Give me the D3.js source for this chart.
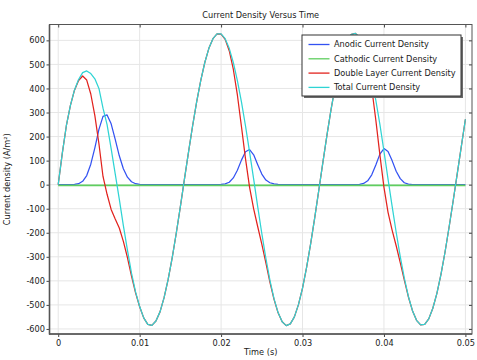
<!DOCTYPE html>
<html><head><meta charset="utf-8">
<script src="https://cdn.jsdelivr.net/npm/d3@7"></script>
<style>
html,body{margin:0;padding:0;background:#fff;}
svg{display:block;font-family:"DejaVu Sans",sans-serif;}
</style></head><body>
<svg id="chart" width="477" height="360"></svg>
<script>
const time = [0,0.0005,0.001,0.0015,0.002,0.0025,0.003,0.0035,0.004,0.0045,
0.005,0.0055,0.006,0.0065,0.007,0.0075,0.008,0.0085,0.009,0.0095,
0.01,0.0105,0.011,0.0115,0.012,0.0125,0.013,0.0135,0.014,0.0145,
0.015,0.0155,0.016,0.0165,0.017,0.0175,0.018,0.0185,0.019,0.0195,
0.02,0.0205,0.021,0.0215,0.022,0.0225,0.023,0.0235,0.024,0.0245,
0.025,0.0255,0.026,0.0265,0.027,0.0275,0.028,0.0285,0.029,0.0295,
0.03,0.0305,0.031,0.0315,0.032,0.0325,0.033,0.0335,0.034,0.0345,
0.035,0.0355,0.036,0.0365,0.037,0.0375,0.038,0.0385,0.039,0.0395,
0.04,0.0405,0.041,0.0415,0.042,0.0425,0.043,0.0435,0.044,0.0445,
0.045,0.0455,0.046,0.0465,0.047,0.0475,0.048,0.0485,0.049,0.0495,0.05];

const anodic = [0,0,0,0,1,4,14,38,85,153,
230,284,290,253,188,120,66,31,12,4,
1,0,0,0,0,0,0,0,0,0,
0,0,0,0,0,0,0,0,0,0,
1,3,10,28,60,102,137,146,124,83,
44,19,8,3,1,0,0,0,0,0,
0,0,0,0,0,0,0,0,0,0,
0,0,0,0,1,5,16,41,82,127,
150,138,100,56,25,8,2,0,0,0,
0,0,0,0,0,0,0,0,0,0,0];

const cathodic = [-3,-3,-3,-3,-3,-3,-3,-3,-3,-3,
-3,-3,-3,-3,-3,-3,-3,-3,-3,-3,
-3,-3,-3,-3,-3,-3,-3,-3,-3,-3,
-3,-3,-3,-3,-3,-3,-3,-3,-3,-3,
-3,-3,-3,-3,-3,-3,-3,-3,-3,-3,
-3,-3,-3,-3,-3,-3,-3,-3,-3,-3,
-3,-3,-3,-3,-3,-3,-3,-3,-3,-3,
-3,-3,-3,-3,-3,-3,-3,-3,-3,-3,
-3,-3,-3,-3,-3,-3,-3,-3,-3,-3,
-3,-3,-3,-3,-3,-3,-3,-3,-3,-3,-3];

const doubleLayer = [0,130,245,330,393,433,452,435,377,287,
170,34,-40,-103,-143,-180,-236,-303,-380,-450,
-508,-554,-581,-585,-567,-529,-470,-394,-303,-201,
-91,23,135,244,344,433,508,567,607,627,
626,604,557,480,373,242,107,-11,-101,-175,
-247,-325,-406,-477,-533,-570,-586,-579,-550,-499,
-430,-344,-245,-137,-23,93,206,312,407,488,
553,599,625,629,611,569,500,401,269,124,
-11,-115,-189,-254,-324,-397,-467,-524,-564,-583,
-581,-558,-514,-452,-373,-280,-176,-67,46,159,272];

const total = [0,130,245,330,394,437,466,473,462,440,
400,318,250,150,45,-60,-170,-272,-368,-446,
-507,-554,-581,-585,-567,-529,-470,-394,-303,-201,
-91,23,135,244,344,433,508,567,607,627,
627,607,567,508,433,344,244,135,23,-92,
-203,-306,-398,-474,-532,-570,-586,-579,-550,-499,
-430,-344,-245,-137,-23,93,206,312,407,488,
553,599,625,629,612,574,516,442,351,251,
139,23,-89,-198,-299,-389,-465,-524,-564,-583,
-581,-558,-514,-452,-373,-280,-176,-67,46,159,272];

const xTicks = [0,0.01,0.02,0.03,0.04,0.05];
const xTickLabels = ["0","0.01","0.02","0.03","0.04","0.05"];
const yTicks = [-600,-500,-400,-300,-200,-100,0,100,200,300,400,500,600];
const yTickLabels = ["-600","-500","-400","-300","-200","-100","0","100","200","300","400","500","600"];
const seriesNames = ["Anodic Current Density","Cathodic Current Density","Double Layer Current Density","Total Current Density"];
const titleText = "Current Density Versus Time";
const xLabel = "Time (s)";
const yLabel = "Current density (A/m\u00B2)";

const seriesData = [anodic, cathodic, doubleLayer, total];
const colors = ["#3352f2","#5fce5f","#e2231e","#2fd4d4"];
const widths = [1.25, 1.6, 1.25, 1.25];

const svg = d3.select("#chart");
const L = 49.5, R = 472, T = 24.5, B = 334;
const x = d3.scaleLinear().domain([-0.00107, 0.05081]).range([L, R]);
const y = d3.scaleLinear().domain([-621, 666]).range([B, T]);
const fs = "8.2px";
const txt = "#1a1a1a";

// grid
const grid = svg.append("g");
grid.selectAll("line.vx").data(xTicks).join("line")
  .attr("x1", d => x(d)).attr("x2", d => x(d)).attr("y1", T).attr("y2", B)
  .attr("stroke", "#e6e6e6").attr("stroke-width", 1);
grid.selectAll("line.hy").data(yTicks).join("line")
  .attr("y1", d => y(d)).attr("y2", d => y(d)).attr("x1", L).attr("x2", R)
  .attr("stroke", "#e6e6e6").attr("stroke-width", 1);

// clip
svg.append("clipPath").attr("id", "clip").append("rect")
  .attr("x", L).attr("y", T).attr("width", R - L).attr("height", B - T);

const line = d3.line().x((d, i) => x(time[i])).y(d => y(d));
const lines = svg.append("g").attr("clip-path", "url(#clip)");
seriesData.forEach((s, k) => {
  lines.append("path").datum(s).attr("d", line)
    .attr("fill", "none").attr("stroke", colors[k]).attr("stroke-width", widths[k])
    .attr("stroke-linejoin", "round");
});

// axes
function styleAxis(g, showText) {
  g.select(".domain").remove();
  g.selectAll(".tick line").attr("stroke", "#444").attr("stroke-width", 1);
  g.selectAll(".tick text").attr("font-size", fs).attr("fill", txt)
    .attr("font-family", "DejaVu Sans, sans-serif");
  if (!showText) g.selectAll(".tick text").remove();
}
svg.append("g").attr("transform", `translate(${L},0)`)
  .call(d3.axisLeft(y).tickValues(yTicks).tickFormat((d, i) => yTickLabels[i]).tickSize(3).tickPadding(1.5))
  .call(g => styleAxis(g, true));
svg.append("g").attr("transform", `translate(0,${B})`)
  .call(d3.axisBottom(x).tickValues(xTicks).tickFormat((d, i) => xTickLabels[i]).tickSize(3).tickPadding(3))
  .call(g => styleAxis(g, true));
svg.append("g").attr("transform", `translate(${R},0)`)
  .call(d3.axisLeft(y).tickValues(yTicks).tickFormat("").tickSize(3))
  .call(g => styleAxis(g, false));
svg.append("g").attr("transform", `translate(0,${T})`)
  .call(d3.axisBottom(x).tickValues(xTicks).tickFormat("").tickSize(3))
  .call(g => styleAxis(g, false));

// frame
svg.append("rect").attr("x", L).attr("y", T).attr("width", R - L).attr("height", B - T)
  .attr("fill", "none").attr("stroke", "#555").attr("stroke-width", 1);
svg.append("line").attr("x1", L).attr("x2", L).attr("y1", T).attr("y2", B + 0.5)
  .attr("stroke", "#555").attr("stroke-width", 1.6);
svg.append("line").attr("x1", L - 0.5).attr("x2", R).attr("y1", B).attr("y2", B)
  .attr("stroke", "#555").attr("stroke-width", 1.6);

// title & labels
svg.append("text").attr("x", (L + R) / 2).attr("y", 18.3).attr("text-anchor", "middle")
  .attr("font-size", fs).attr("fill", txt).text(titleText);
svg.append("text").attr("x", (L + R) / 2).attr("y", 354.5).attr("text-anchor", "middle")
  .attr("font-size", fs).attr("fill", txt).text(xLabel);
svg.append("text").attr("transform", `translate(10,${(T + B) / 2}) rotate(-90)`)
  .attr("text-anchor", "middle").attr("font-size", fs).attr("fill", txt).text(yLabel);

// legend
const lg = svg.append("g");
const lx = 302, ly = 35, lw = 159, lh = 61;
lg.append("rect").attr("x", lx + 2).attr("y", ly + 2).attr("width", lw).attr("height", lh).attr("fill", "#6a6a6a");
lg.append("rect").attr("x", lx).attr("y", ly).attr("width", lw).attr("height", lh)
  .attr("fill", "#fff").attr("stroke", "#333").attr("stroke-width", 1);
seriesNames.forEach((n, k) => {
  const yy = 44.5 + k * 14.3;
  lg.append("line").attr("x1", lx + 6.5).attr("x2", lx + 27.5).attr("y1", yy).attr("y2", yy)
    .attr("stroke", colors[k]).attr("stroke-width", 1.3);
  lg.append("text").attr("x", lx + 32).attr("y", yy).attr("dy", "0.35em")
    .attr("font-size", fs).attr("fill", txt).text(n);
});
</script>
</body></html>
